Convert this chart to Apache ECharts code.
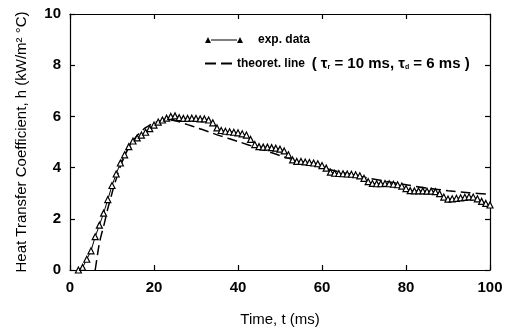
<!DOCTYPE html>
<html>
<head>
<meta charset="utf-8">
<script src="https://cdn.jsdelivr.net/npm/echarts@6/dist/echarts.min.js"></script>
<style>html,body{margin:0;padding:0;background:#fff}#c{width:509px;height:332px}</style>
</head>
<body>
<div id="c"></div>
<script>
var expTime = [2,3,4,5,6,7,8,9,10,11,12,13,14,15,16,17,18,19,20,21,22,23,24,25,26,27,28,29,30,31,32,33,34,35,36,37,38,39,40,41,42,43,44,45,46,47,48,49,50,51,52,53,54,55,56,57,58,59,60,61,62,63,64,65,66,67,68,69,70,71,72,73,74,75,76,77,78,79,80,81,82,83,84,85,86,87,88,89,90,91,92,93,94,95,96,97,98,99,100];
var expH = [0.0,0.1,0.42,0.75,1.3,1.75,2.22,2.75,3.3,3.75,4.18,4.5,4.82,5.04,5.16,5.27,5.38,5.52,5.66,5.78,5.86,5.93,6.0,6.02,5.95,5.92,5.92,5.93,5.92,5.9,5.9,5.86,5.75,5.55,5.45,5.42,5.4,5.38,5.36,5.32,5.27,5.1,4.9,4.82,4.8,4.8,4.78,4.76,4.72,4.65,4.5,4.3,4.24,4.24,4.22,4.2,4.18,4.15,4.08,3.98,3.82,3.78,3.77,3.76,3.75,3.74,3.72,3.68,3.58,3.45,3.38,3.37,3.37,3.38,3.37,3.35,3.33,3.28,3.18,3.1,3.09,3.09,3.09,3.08,3.08,3.06,2.98,2.85,2.77,2.78,2.8,2.82,2.84,2.86,2.85,2.78,2.68,2.6,2.54];
var theoTime = [6,6.5,7,7.5,8,8.5,9,9.5,10,10.5,11,12,13,14,15,16,17,18,19,20,21,22,23,24,25,26,28,30,33,36,40,45,50,55,60,65,70,75,80,85,90,95,100];
var theoH = [0,0.55,1.05,1.4,1.7,2.05,2.4,2.7,3.0,3.3,3.55,4.05,4.45,4.78,5.04,5.25,5.42,5.56,5.66,5.74,5.8,5.84,5.86,5.86,5.83,5.79,5.68,5.57,5.4,5.23,5.02,4.75,4.47,4.22,4.0,3.8,3.62,3.47,3.33,3.2,3.1,3.02,2.96];
var xTicks = [0,20,40,60,80,100];
var yTicks = [0,2,4,6,8,10];

function pairs(a,b){var r=[];for(var i=0;i<a.length;i++)r.push([a[i],b[i]]);return r;}

var FONT = 'Liberation Sans';
var chart = echarts.init(document.getElementById('c'), null, {renderer:'canvas'});
var axisCommon = {
  axisLine:{show:true,onZero:false,lineStyle:{color:'#000',width:1.2}},
  axisTick:{show:true,inside:true,length:5,lineStyle:{color:'#000',width:1.2}},
  splitLine:{show:false}
};
chart.setOption({
  animation:false,
  backgroundColor:'#fff',
  grid:{left:70,right:19,top:14,bottom:56,show:false},
  legend:[{
    data:[{name:'exp. data',icon:'path://M0 10 L3 4 L6 10 Z M6 6.6 L32 6.6 L32 7.6 L6 7.6 Z M32 10 L35 4 L38 10 Z',itemStyle:{color:'#000',borderWidth:0}}],
    left:205, top:34, padding:0, itemWidth:38, itemHeight:7, itemGap:10,
    textStyle:{fontFamily:FONT,fontSize:12,fontWeight:'bold',color:'#000',padding:[0,0,0,10]}
  },{
    data:[{name:'theoret. line',icon:'path://M0 0 L11 0 L11 2 L0 2 Z M16 0 L27 0 L27 2 L16 2 Z',itemStyle:{color:'#000',borderWidth:0}}],
    left:205, top:56, padding:0, itemWidth:27, itemHeight:2, itemGap:6,
    formatter:function(){return 'theoret. line  {p|( \u03c4}{s|r}{p| = 10 ms, \u03c4}{s|d}{p| = 6 ms )}';},
    textStyle:{fontFamily:FONT,fontSize:12,fontWeight:'bold',color:'#000',
      rich:{p:{fontFamily:FONT,fontSize:15,fontWeight:'bold',color:'#000'},
            s:{fontFamily:FONT,fontSize:7,fontWeight:'bold',color:'#000',padding:[7,0,0,0]}}}
  }],
  xAxis:[Object.assign({
    type:'value',min:0,max:100,interval:20,position:'bottom',
    name:'Time, t (ms)',nameLocation:'middle',nameGap:42,
    nameTextStyle:{fontFamily:FONT,fontSize:15,color:'#000'},
    axisLabel:{fontFamily:FONT,fontSize:15,fontWeight:'bold',color:'#000',margin:10,
      formatter:function(v){return xTicks.indexOf(v)>=0?String(v):'';}}
  },axisCommon),Object.assign({
    type:'value',min:0,max:100,interval:20,position:'top',axisLabel:{show:false}
  },axisCommon)],
  yAxis:[Object.assign({
    type:'value',min:0,max:10,interval:2,position:'left',
    name:'Heat Transfer Coefficient, h (kW/m\u00b2 \u00b0C)',nameLocation:'middle',nameGap:41,
    nameTextStyle:{fontFamily:FONT,fontSize:15,color:'#000'},
    axisLabel:{fontFamily:FONT,fontSize:15,fontWeight:'bold',color:'#000',margin:9,
      formatter:function(v){return yTicks.indexOf(v)>=0?String(v):'';}}
  },axisCommon),Object.assign({
    type:'value',min:0,max:10,interval:2,position:'right',axisLabel:{show:false}
  },axisCommon)],
  series:[{
    name:'exp. data',type:'line',data:pairs(expTime,expH),
    symbol:'triangle',symbolSize:6,showAllSymbol:true,
    lineStyle:{color:'#000',width:1},
    itemStyle:{color:'#fff',borderColor:'#000',borderWidth:1.2},
    z:3
  },{
    name:'theoret. line',type:'line',data:pairs(theoTime,theoH),smooth:0.3,
    symbol:'none',
    lineStyle:{color:'#000',width:1.5,type:[10,5]},
    itemStyle:{color:'#000'},
    z:2
  }]
});
</script>
</body>
</html>
